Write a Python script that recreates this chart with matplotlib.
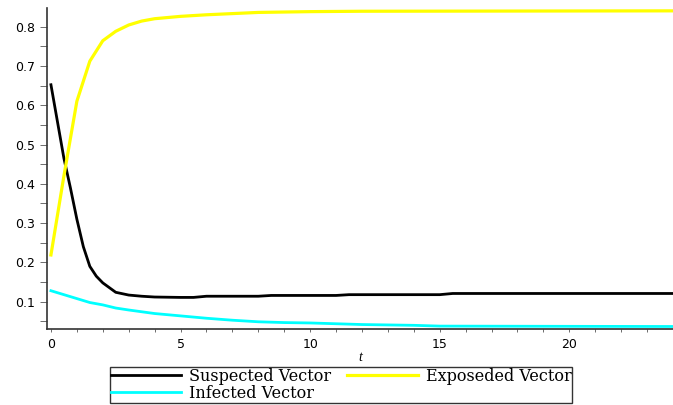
import matplotlib
matplotlib.use("Agg")
import matplotlib.pyplot as plt
from matplotlib.ticker import MultipleLocator

t_sus = [0, 0.5, 0.75, 1, 1.25, 1.5, 1.75, 2, 2.5, 3, 3.5, 4, 5, 5.5, 6, 8, 8.5, 11, 11.5, 15, 15.5, 24]
suspected = [0.652, 0.465, 0.39, 0.31, 0.24, 0.19, 0.165, 0.148, 0.124, 0.117, 0.114, 0.112,
             0.111, 0.111, 0.114, 0.114, 0.116, 0.116, 0.118, 0.118, 0.121, 0.121]

t_exp = [0, 0.5, 1, 1.5, 2, 2.5, 3, 3.5, 4, 5, 6, 7, 8, 10, 12, 24]
exposed = [0.219, 0.42, 0.61, 0.712, 0.764, 0.788, 0.804, 0.814, 0.82, 0.826, 0.830,
           0.833, 0.836, 0.838, 0.839, 0.840]

t_inf = [0, 0.5, 1, 1.5, 2, 2.5, 3, 4, 5, 6, 7, 8, 9, 10, 11, 12, 13, 14, 15, 24]
infected = [0.128, 0.118, 0.108, 0.098, 0.092, 0.084, 0.079, 0.070, 0.064, 0.058, 0.053,
            0.049, 0.047, 0.046, 0.044, 0.042, 0.041, 0.040, 0.038, 0.037]

labels = ["Suspected Vector", "Exposeded Vector", "Infected Vector"]

fig = plt.figure(figsize=(6.73, 4.05), dpi=100)
ax = fig.add_axes([0.0705, 0.188, 0.9295, 0.792])

l1, = ax.plot(t_sus, suspected, color="black", lw=2.0)
l2, = ax.plot(t_exp, exposed, color="#ffff00", lw=2.3)
l3, = ax.plot(t_inf, infected, color="#00ffff", lw=2.0)

ax.set_xlim(-0.135, 24)
ax.set_ylim(0.031, 0.847)
ax.xaxis.set_major_locator(MultipleLocator(5))
ax.xaxis.set_minor_locator(MultipleLocator(1))
ax.yaxis.set_minor_locator(MultipleLocator(0.05))
ax.set_yticks([0.1, 0.2, 0.3, 0.4, 0.5, 0.6, 0.7, 0.8])
ax.set_yticklabels(["0.1", "0.2", "0.3", "0.4", "0.5", "0.6", "0.7", "0.8"])

for s in ["top", "right"]:
    ax.spines[s].set_visible(False)
for s in ["left", "bottom"]:
    ax.spines[s].set_linewidth(1.2)
    ax.spines[s].set_color("#333333")

ax.tick_params(axis="y", which="both", length=5, width=0.6, color="#555555")
ax.tick_params(axis="x", which="both", length=2.5, width=0.6, color="#555555")
ax.tick_params(which="major", labelsize=9, pad=4)
ax.set_xlabel("t", fontstyle="italic", family="Liberation Serif", fontsize=10, labelpad=0)

leg = fig.legend([l1, l3, l2], [labels[0], labels[2], labels[1]], ncol=2,
                 loc="center", bbox_to_anchor=(0.507, 0.0494),
                 prop={"family": "DejaVu Serif", "size": 11.5},
                 frameon=True, fancybox=False, edgecolor="black",
                 handlelength=4.4, borderpad=0.05, labelspacing=0.0,
                 columnspacing=1.0, handletextpad=0.5, borderaxespad=0)
leg.get_frame().set_linewidth(1.0)

fig.savefig("out.png", dpi=100)
